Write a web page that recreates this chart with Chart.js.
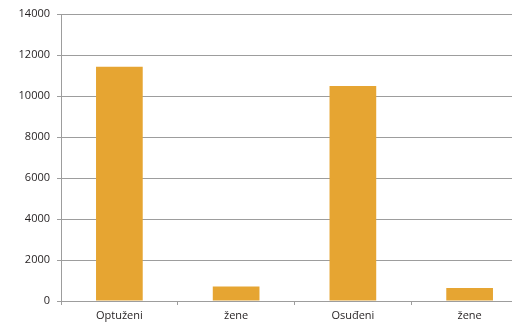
<!DOCTYPE html>
<html>
<head>
<meta charset="utf-8">
<script src="https://cdn.jsdelivr.net/npm/chart.js@4"></script>
<style>
  html, body { margin: 0; padding: 0; background: #fff; overflow: hidden; width: 512px; height: 323px; }
  #wrap { width: 528px; height: 323px; position: relative; }
</style>
</head>
<body>
<div id="wrap"><canvas id="chart"></canvas></div>
<script>
// Chart data
const categories = ['Optuženi', 'žene', 'Osuđeni', 'žene'];
const values = [11430, 710, 10490, 640];
const yTicks = [0, 2000, 4000, 6000, 8000, 10000, 12000, 14000];

const barColor = '#e6a532';
const gridColor = '#9d9d9d';
const textColor = '#231f20';

const ctx = document.getElementById('chart').getContext('2d');
new Chart(ctx, {
    type: 'bar',
    data: {
        labels: categories,
        datasets: [{
            data: values,
            backgroundColor: barColor,
            borderWidth: 0,
            categoryPercentage: 1,
            barPercentage: 0.4
        }]
    },
    options: {
        responsive: true,
        maintainAspectRatio: false,
        animation: false,
        layout: { padding: { top: 14, right: 0, left: 0, bottom: 0 } },
        plugins: {
            legend: { display: false },
            tooltip: { enabled: false }
        },
        scales: {
            x: {
                grid: {
                    offset: true,
                    drawOnChartArea: false,
                    color: gridColor,
                    tickLength: 4
                },
                border: { color: gridColor },
                ticks: {
                    color: textColor,
                    font: { family: 'Open Sans', size: 11 },
                    padding: 4,
                    maxRotation: 0
                },
                afterFit: s => { s.height = 22; }
            },
            y: {
                min: 0,
                max: 14000,
                afterBuildTicks: s => { s.ticks = yTicks.map(v => ({ value: v })); },
                grid: { color: gridColor, tickLength: 4 },
                border: { color: gridColor },
                ticks: {
                    color: textColor,
                    font: { family: 'Open Sans', size: 11 },
                    padding: 7,
                    callback: v => String(v)
                },
                afterFit: s => { s.width = 61; }
            }
        }
    }
});
</script>
</body>
</html>
